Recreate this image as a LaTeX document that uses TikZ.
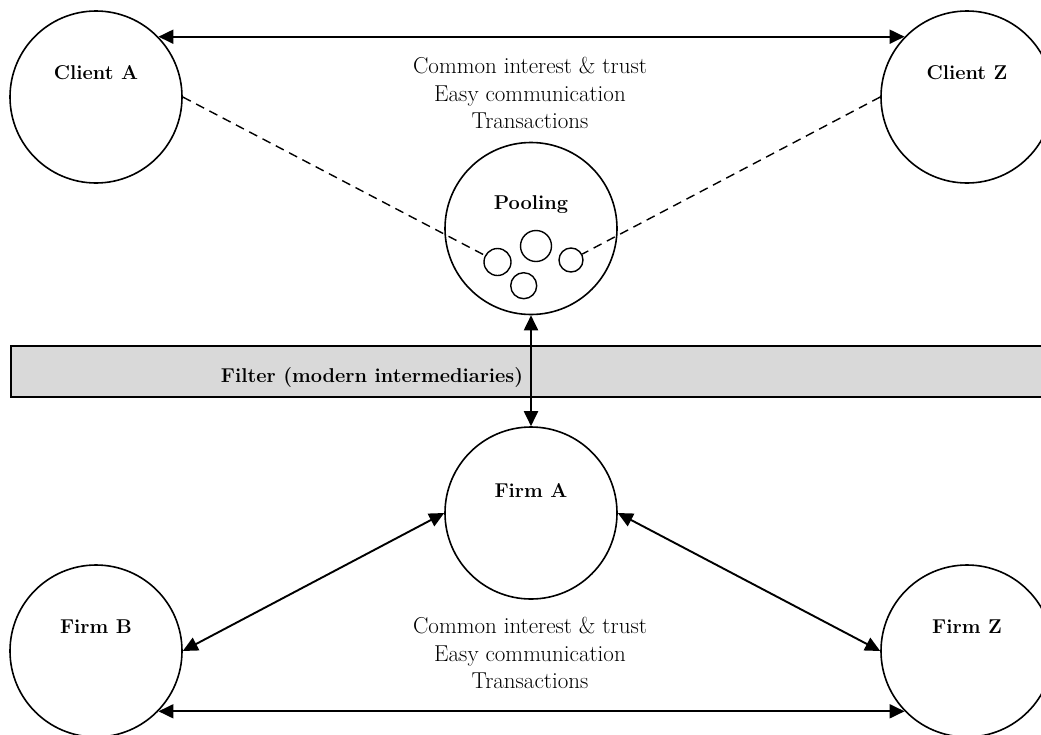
\documentclass[tikz,border=0pt]{standalone}
\usetikzlibrary{arrows.meta}
\definecolor{bandgray}{RGB}{217,217,217}
\begin{document}
\begin{tikzpicture}[x=1pt,y=-1pt,
  bigc/.style={circle,draw,line width=1.6pt,minimum size=172pt,inner sep=0pt},
  smallc/.style={circle,draw,line width=1.4pt,inner sep=0pt},
  lab/.style={font=\fontsize{20}{24}\selectfont\bfseries,inner sep=0pt},
  txt/.style={font=\fontsize{23}{27.5}\selectfont,align=center,inner sep=0pt},
  conn/.style={line width=1.9pt,{Triangle[length=15pt,width=14pt]}-{Triangle[length=15pt,width=14pt]}},
  dconn/.style={line width=1.4pt,dash pattern=on 9pt off 6pt}]
\useasboundingbox (0,0) rectangle (1041,734);
% filter band
\node[draw,line width=1.8pt,fill=bandgray,anchor=north west,minimum width=1060pt,minimum height=51pt,inner sep=0pt] (band) at (10,345) {};
\node[lab] (bandt) at (372,378) {Filter (modern intermediaries)};
% big circles
\node[bigc] (ca) at (96,97) {};
\node[bigc] (cz) at (967,97) {};
\node[bigc] (pool) at (531,228.5) {};
\node[bigc] (fa) at (531,513) {};
\node[bigc] (fb) at (96,651) {};
\node[bigc] (fz) at (967,651) {};
% labels
\node[lab] (cat) at (96,73) {Client A};
\node[lab] (czt) at (967,73) {Client Z};
\node[lab] (poolt) at (531,205) {Pooling};
\node[lab] (fat) at (531,490) {Firm A};
\node[lab] (fbt) at (96,627) {Firm B};
\node[lab] (fzt) at (967,627) {Firm Z};
% small circles
\node[smallc,minimum size=27pt] (s1) at (497.5,262) {};
\node[smallc,minimum size=31pt] (s2) at (536,246) {};
\node[smallc,minimum size=24pt] (s3) at (571,260) {};
\node[smallc,minimum size=26pt] (s4) at (523.7,285.7) {};
% texts
\node[txt] (top) at (530,93) {Common interest \& trust\\Easy communication\\Transactions};
\node[txt] (bot) at (530,653) {Common interest \& trust\\Easy communication\\Transactions};
% connectors
\draw[conn] (ca.44) -- (cz.136);
\draw[conn] (fb.-44) -- (fz.-136);
\draw[conn] (pool.south) -- (fa.north);
\draw[conn] (fa.180) -- (fb.0);
\draw[conn] (fa.0) -- (fz.180);
\draw[dconn] (ca.east) -- (s1);
\draw[dconn] (cz.west) -- (s3);
\end{tikzpicture}
\end{document}
